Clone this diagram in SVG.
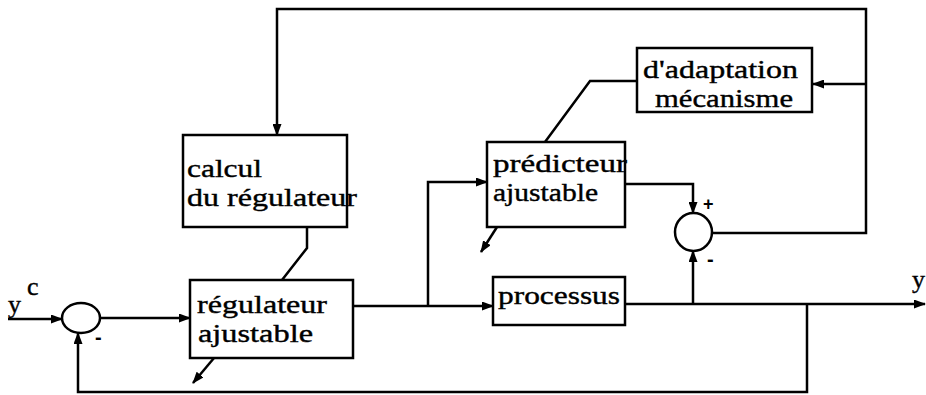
<svg xmlns="http://www.w3.org/2000/svg" width="926" height="395" viewBox="0 0 926 395">
<style>
.box{fill:#fff;stroke:#000;stroke-width:2.5}
.sum{fill:none;stroke:#000;stroke-width:2.5}
.c{fill:none;stroke:#000;stroke-width:2.5;stroke-linejoin:miter}
.a{marker-end:url(#ah)}
.t{font-family:"Liberation Serif","Times New Roman",serif;font-size:26px;fill:#000;stroke:#000;stroke-width:0.4}
.s{font-family:"Liberation Sans",Arial,sans-serif;font-weight:bold;fill:#000}
</style>
<defs>
<marker id="ah" viewBox="0 0 12 9" refX="11" refY="4.5" markerWidth="12" markerHeight="9" markerUnits="userSpaceOnUse" orient="auto">
<path d="M0,0 L12,4.5 L0,9 z" fill="#000"/>
</marker>
</defs>
<rect width="926" height="395" fill="#fff"/>
<g id="connectors">
<path class="c a" d="M712,233 H866 V9 H277 V135"/>
<path class="c a" d="M866,84 H813"/>
<path class="c" d="M637,81 H590 L545,142"/>
<path class="c" d="M307,227 V248 L282,280"/>
<path class="c a" d="M8,319 H62"/>
<path class="c a" d="M100,318 H190"/>
<path class="c a" d="M353,306 H493"/>
<path class="c a" d="M428,306 V182 H487"/>
<path class="c a" d="M625,184 H693 V213"/>
<path class="c a" d="M625,304 H925"/>
<path class="c a" d="M693,304 V251"/>
<path class="c a" d="M807,304 V392 H78 V333"/>
<path class="c a" d="M497,227 L481,252"/>
<path class="c a" d="M214,358 L193,383"/>
</g>
<g id="sum1">
<ellipse class="sum" cx="81" cy="318" rx="19" ry="15"/>
<text class="s" x="95" y="344" font-size="20">-</text>
</g>
<g id="sum2">
<ellipse class="sum" cx="693.5" cy="232" rx="18.5" ry="19"/>
<text class="s" x="703" y="210" font-size="18">+</text>
<text class="s" x="707" y="266" font-size="20">-</text>
</g>
<g id="calcul">
<rect class="box" x="183" y="135" width="164" height="92"/>
<text class="t" x="187" y="177" textLength="75" lengthAdjust="spacingAndGlyphs">calcul</text>
<text class="t" x="187" y="206" textLength="170" lengthAdjust="spacingAndGlyphs">du régulateur</text>
</g>
<g id="regulateur">
<rect class="box" x="190" y="280" width="163" height="78"/>
<text class="t" x="197" y="313" textLength="130" lengthAdjust="spacingAndGlyphs">régulateur</text>
<text class="t" x="198" y="342" textLength="115" lengthAdjust="spacingAndGlyphs">ajustable</text>
</g>
<g id="predicteur">
<rect class="box" x="487" y="142" width="138" height="85"/>
<text class="t" x="493" y="172" textLength="134" lengthAdjust="spacingAndGlyphs">prédicteur</text>
<text class="t" x="493" y="201" textLength="105" lengthAdjust="spacingAndGlyphs">ajustable</text>
</g>
<g id="adaptation">
<rect class="box" x="637" y="48" width="175" height="64"/>
<text class="t" x="643" y="78" textLength="155" lengthAdjust="spacingAndGlyphs">d'adaptation</text>
<text class="t" x="655" y="107" textLength="138" lengthAdjust="spacingAndGlyphs">mécanisme</text>
</g>
<g id="processus">
<rect class="box" x="493" y="277" width="132" height="48"/>
<text class="t" x="498" y="304" textLength="122" lengthAdjust="spacingAndGlyphs">processus</text>
</g>
<g id="labels">
<text class="t" x="8" y="313" font-size="26">y</text>
<text class="t" x="27" y="295" font-size="22">c</text>
<text class="t" x="912" y="288" font-size="26">y</text>
</g>
</svg>
